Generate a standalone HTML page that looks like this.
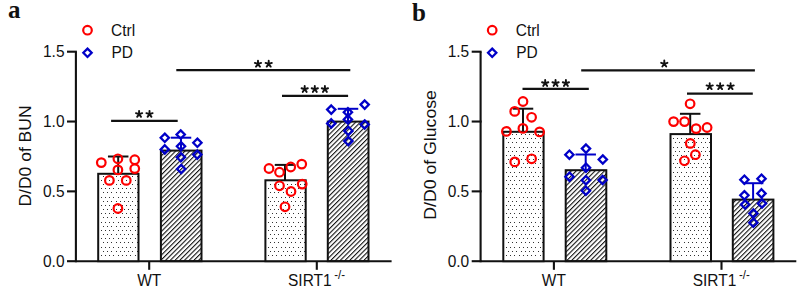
<!DOCTYPE html>
<html><head><meta charset="utf-8"><style>
html,body{margin:0;padding:0;background:#fff;width:797px;height:288px;overflow:hidden}
svg{display:block;font-family:"Liberation Sans",sans-serif}
</style></head><body>
<svg width="797" height="288" viewBox="0 0 797 288" font-family="Liberation Sans" fill="#111">
<defs>
<pattern id="hatch" patternUnits="userSpaceOnUse" width="3.34" height="10" patternTransform="rotate(45)">
<rect x="0" y="0" width="1.1" height="10" fill="#111"/>
</pattern>
</defs>
<rect width="797" height="288" fill="#fff"/>
<text x="8" y="18" font-family="Liberation Serif" font-weight="bold" font-size="25">a</text>
<path d="M75.9 51.7V261.2H391.6" fill="none" stroke="#111" stroke-width="2.1"/>
<line x1="67" y1="261.2" x2="76.9" y2="261.2" stroke="#111" stroke-width="2.1"/>
<text transform="translate(64.5 266.5) scale(1 1.11)" font-size="15.5" text-anchor="end" >0.0</text>
<line x1="67" y1="191.37" x2="76.9" y2="191.37" stroke="#111" stroke-width="2.1"/>
<text transform="translate(64.5 196.67) scale(1 1.11)" font-size="15.5" text-anchor="end" >0.5</text>
<line x1="67" y1="121.53" x2="76.9" y2="121.53" stroke="#111" stroke-width="2.1"/>
<text transform="translate(64.5 126.83) scale(1 1.11)" font-size="15.5" text-anchor="end" >1.0</text>
<line x1="67" y1="51.7" x2="76.9" y2="51.7" stroke="#111" stroke-width="2.1"/>
<text transform="translate(64.5 57) scale(1 1.11)" font-size="15.5" text-anchor="end" >1.5</text>
<line x1="149.2" y1="261.2" x2="149.2" y2="269.8" stroke="#111" stroke-width="2.1"/>
<line x1="316.8" y1="261.2" x2="316.8" y2="269.8" stroke="#111" stroke-width="2.1"/>
<text transform="translate(149.2 286.3) scale(1 1.11)" font-size="15.5" text-anchor="middle" >WT</text>
<text transform="translate(288 286.3) scale(1 1.11)" font-size="15.5" text-anchor="start" >SIRT1</text>
<text transform="translate(334.2 279.2) scale(1 1.11)" font-size="11.5" text-anchor="start" >-/-</text>
<text transform="translate(31.3 156) rotate(-90)" font-size="16" text-anchor="middle" textLength="101" lengthAdjust="spacingAndGlyphs">D/D0 of BUN</text>
<circle cx="87.5" cy="30.2" r="4.3" fill="none" stroke="#fd0000" stroke-width="2.2"/>
<path d="M87.5 48.65L91.65 52.8L87.5 56.95L83.35 52.8Z" fill="none" stroke="#0000c8" stroke-width="2.3"/>
<text transform="translate(111 35.6) scale(1 1.11)" font-size="15.5" text-anchor="start" >Ctrl</text>
<text transform="translate(111.5 58) scale(1 1.11)" font-size="15.5" text-anchor="start" >PD</text>
<rect x="98.2" y="173.8" width="40.3" height="87.4" fill="#fff"/>
<path d="M101 255h1v1h-1zM105 255h1v1h-1zM109 255h1v1h-1zM113 255h1v1h-1zM118 255h1v1h-1zM122 255h1v1h-1zM126 255h1v1h-1zM130 255h1v1h-1zM135 255h1v1h-1zM103 251h1v1h-1zM107 251h1v1h-1zM111 251h1v1h-1zM116 251h1v1h-1zM120 251h1v1h-1zM124 251h1v1h-1zM128 251h1v1h-1zM132 251h1v1h-1zM137 251h1v1h-1zM101 247h1v1h-1zM105 247h1v1h-1zM109 247h1v1h-1zM113 247h1v1h-1zM118 247h1v1h-1zM122 247h1v1h-1zM126 247h1v1h-1zM130 247h1v1h-1zM135 247h1v1h-1zM103 242h1v1h-1zM107 242h1v1h-1zM111 242h1v1h-1zM116 242h1v1h-1zM120 242h1v1h-1zM124 242h1v1h-1zM128 242h1v1h-1zM132 242h1v1h-1zM137 242h1v1h-1zM101 238h1v1h-1zM105 238h1v1h-1zM109 238h1v1h-1zM113 238h1v1h-1zM118 238h1v1h-1zM122 238h1v1h-1zM126 238h1v1h-1zM130 238h1v1h-1zM135 238h1v1h-1zM103 234h1v1h-1zM107 234h1v1h-1zM111 234h1v1h-1zM116 234h1v1h-1zM120 234h1v1h-1zM124 234h1v1h-1zM128 234h1v1h-1zM132 234h1v1h-1zM137 234h1v1h-1zM101 230h1v1h-1zM105 230h1v1h-1zM109 230h1v1h-1zM113 230h1v1h-1zM118 230h1v1h-1zM122 230h1v1h-1zM126 230h1v1h-1zM130 230h1v1h-1zM135 230h1v1h-1zM103 226h1v1h-1zM107 226h1v1h-1zM111 226h1v1h-1zM116 226h1v1h-1zM120 226h1v1h-1zM124 226h1v1h-1zM128 226h1v1h-1zM132 226h1v1h-1zM137 226h1v1h-1zM101 222h1v1h-1zM105 222h1v1h-1zM109 222h1v1h-1zM113 222h1v1h-1zM118 222h1v1h-1zM122 222h1v1h-1zM126 222h1v1h-1zM130 222h1v1h-1zM135 222h1v1h-1zM103 217h1v1h-1zM107 217h1v1h-1zM111 217h1v1h-1zM116 217h1v1h-1zM120 217h1v1h-1zM124 217h1v1h-1zM128 217h1v1h-1zM132 217h1v1h-1zM137 217h1v1h-1zM101 213h1v1h-1zM105 213h1v1h-1zM109 213h1v1h-1zM113 213h1v1h-1zM118 213h1v1h-1zM122 213h1v1h-1zM126 213h1v1h-1zM130 213h1v1h-1zM135 213h1v1h-1zM103 209h1v1h-1zM107 209h1v1h-1zM111 209h1v1h-1zM116 209h1v1h-1zM120 209h1v1h-1zM124 209h1v1h-1zM128 209h1v1h-1zM132 209h1v1h-1zM137 209h1v1h-1zM101 205h1v1h-1zM105 205h1v1h-1zM109 205h1v1h-1zM113 205h1v1h-1zM118 205h1v1h-1zM122 205h1v1h-1zM126 205h1v1h-1zM130 205h1v1h-1zM135 205h1v1h-1zM103 201h1v1h-1zM107 201h1v1h-1zM111 201h1v1h-1zM116 201h1v1h-1zM120 201h1v1h-1zM124 201h1v1h-1zM128 201h1v1h-1zM132 201h1v1h-1zM137 201h1v1h-1zM101 197h1v1h-1zM105 197h1v1h-1zM109 197h1v1h-1zM113 197h1v1h-1zM118 197h1v1h-1zM122 197h1v1h-1zM126 197h1v1h-1zM130 197h1v1h-1zM135 197h1v1h-1zM103 192h1v1h-1zM107 192h1v1h-1zM111 192h1v1h-1zM116 192h1v1h-1zM120 192h1v1h-1zM124 192h1v1h-1zM128 192h1v1h-1zM132 192h1v1h-1zM137 192h1v1h-1zM101 188h1v1h-1zM105 188h1v1h-1zM109 188h1v1h-1zM113 188h1v1h-1zM118 188h1v1h-1zM122 188h1v1h-1zM126 188h1v1h-1zM130 188h1v1h-1zM135 188h1v1h-1zM103 184h1v1h-1zM107 184h1v1h-1zM111 184h1v1h-1zM116 184h1v1h-1zM120 184h1v1h-1zM124 184h1v1h-1zM128 184h1v1h-1zM132 184h1v1h-1zM137 184h1v1h-1zM101 180h1v1h-1zM105 180h1v1h-1zM109 180h1v1h-1zM113 180h1v1h-1zM118 180h1v1h-1zM122 180h1v1h-1zM126 180h1v1h-1zM130 180h1v1h-1zM135 180h1v1h-1zM103 176h1v1h-1zM107 176h1v1h-1zM111 176h1v1h-1zM116 176h1v1h-1zM120 176h1v1h-1zM124 176h1v1h-1zM128 176h1v1h-1zM132 176h1v1h-1zM137 176h1v1h-1z" fill="#333"/>
<rect x="98.2" y="173.8" width="40.3" height="87.4" fill="none" stroke="#111" stroke-width="2"/>
<line x1="118.2" y1="156.5" x2="118.2" y2="173.8" stroke="#111" stroke-width="2.0"/>
<line x1="107.95" y1="156.5" x2="128.45" y2="156.5" stroke="#111" stroke-width="2.0"/>
<circle cx="101.3" cy="162.6" r="4.3" fill="none" stroke="#fd0000" stroke-width="2.2"/>
<circle cx="117.9" cy="158.8" r="4.3" fill="none" stroke="#fd0000" stroke-width="2.2"/>
<circle cx="134.75" cy="159.7" r="4.3" fill="none" stroke="#fd0000" stroke-width="2.2"/>
<circle cx="117.9" cy="169.9" r="4.3" fill="none" stroke="#fd0000" stroke-width="2.2"/>
<circle cx="134.75" cy="168.6" r="4.3" fill="none" stroke="#fd0000" stroke-width="2.2"/>
<circle cx="109.4" cy="180.4" r="4.3" fill="none" stroke="#fd0000" stroke-width="2.2"/>
<circle cx="126.25" cy="180.4" r="4.3" fill="none" stroke="#fd0000" stroke-width="2.2"/>
<circle cx="117.9" cy="208.5" r="4.3" fill="none" stroke="#fd0000" stroke-width="2.2"/>
<rect x="160.9" y="150.6" width="40.6" height="110.6" fill="url(#hatch)" stroke="#111" stroke-width="2"/>
<line x1="181" y1="137.7" x2="181" y2="150.6" stroke="#0000c8" stroke-width="2.0"/>
<line x1="170.75" y1="137.7" x2="191.25" y2="137.7" stroke="#0000c8" stroke-width="2.0"/>
<path d="M164.8 133.65L168.95 137.8L164.8 141.95L160.65 137.8Z" fill="none" stroke="#0000c8" stroke-width="2.3"/>
<path d="M180.7 130.35L184.85 134.5L180.7 138.65L176.55 134.5Z" fill="none" stroke="#0000c8" stroke-width="2.3"/>
<path d="M197.4 138.65L201.55 142.8L197.4 146.95L193.25 142.8Z" fill="none" stroke="#0000c8" stroke-width="2.3"/>
<path d="M164.8 145.25L168.95 149.4L164.8 153.55L160.65 149.4Z" fill="none" stroke="#0000c8" stroke-width="2.3"/>
<path d="M181 142.15L185.15 146.3L181 150.45L176.85 146.3Z" fill="none" stroke="#0000c8" stroke-width="2.3"/>
<path d="M197.3 150.45L201.45 154.6L197.3 158.75L193.15 154.6Z" fill="none" stroke="#0000c8" stroke-width="2.3"/>
<path d="M180.9 153.15L185.05 157.3L180.9 161.45L176.75 157.3Z" fill="none" stroke="#0000c8" stroke-width="2.3"/>
<path d="M181.2 164.85L185.35 169L181.2 173.15L177.05 169Z" fill="none" stroke="#0000c8" stroke-width="2.3"/>
<rect x="265.4" y="180.3" width="40.3" height="80.9" fill="#fff"/>
<path d="M268 255h1v1h-1zM272 255h1v1h-1zM276 255h1v1h-1zM281 255h1v1h-1zM285 255h1v1h-1zM289 255h1v1h-1zM293 255h1v1h-1zM298 255h1v1h-1zM302 255h1v1h-1zM270 251h1v1h-1zM274 251h1v1h-1zM278 251h1v1h-1zM283 251h1v1h-1zM287 251h1v1h-1zM291 251h1v1h-1zM295 251h1v1h-1zM300 251h1v1h-1zM304 251h1v1h-1zM268 247h1v1h-1zM272 247h1v1h-1zM276 247h1v1h-1zM281 247h1v1h-1zM285 247h1v1h-1zM289 247h1v1h-1zM293 247h1v1h-1zM298 247h1v1h-1zM302 247h1v1h-1zM270 242h1v1h-1zM274 242h1v1h-1zM278 242h1v1h-1zM283 242h1v1h-1zM287 242h1v1h-1zM291 242h1v1h-1zM295 242h1v1h-1zM300 242h1v1h-1zM304 242h1v1h-1zM268 238h1v1h-1zM272 238h1v1h-1zM276 238h1v1h-1zM281 238h1v1h-1zM285 238h1v1h-1zM289 238h1v1h-1zM293 238h1v1h-1zM298 238h1v1h-1zM302 238h1v1h-1zM270 234h1v1h-1zM274 234h1v1h-1zM278 234h1v1h-1zM283 234h1v1h-1zM287 234h1v1h-1zM291 234h1v1h-1zM295 234h1v1h-1zM300 234h1v1h-1zM304 234h1v1h-1zM268 230h1v1h-1zM272 230h1v1h-1zM276 230h1v1h-1zM281 230h1v1h-1zM285 230h1v1h-1zM289 230h1v1h-1zM293 230h1v1h-1zM298 230h1v1h-1zM302 230h1v1h-1zM270 226h1v1h-1zM274 226h1v1h-1zM278 226h1v1h-1zM283 226h1v1h-1zM287 226h1v1h-1zM291 226h1v1h-1zM295 226h1v1h-1zM300 226h1v1h-1zM304 226h1v1h-1zM268 222h1v1h-1zM272 222h1v1h-1zM276 222h1v1h-1zM281 222h1v1h-1zM285 222h1v1h-1zM289 222h1v1h-1zM293 222h1v1h-1zM298 222h1v1h-1zM302 222h1v1h-1zM270 217h1v1h-1zM274 217h1v1h-1zM278 217h1v1h-1zM283 217h1v1h-1zM287 217h1v1h-1zM291 217h1v1h-1zM295 217h1v1h-1zM300 217h1v1h-1zM304 217h1v1h-1zM268 213h1v1h-1zM272 213h1v1h-1zM276 213h1v1h-1zM281 213h1v1h-1zM285 213h1v1h-1zM289 213h1v1h-1zM293 213h1v1h-1zM298 213h1v1h-1zM302 213h1v1h-1zM270 209h1v1h-1zM274 209h1v1h-1zM278 209h1v1h-1zM283 209h1v1h-1zM287 209h1v1h-1zM291 209h1v1h-1zM295 209h1v1h-1zM300 209h1v1h-1zM304 209h1v1h-1zM268 205h1v1h-1zM272 205h1v1h-1zM276 205h1v1h-1zM281 205h1v1h-1zM285 205h1v1h-1zM289 205h1v1h-1zM293 205h1v1h-1zM298 205h1v1h-1zM302 205h1v1h-1zM270 201h1v1h-1zM274 201h1v1h-1zM278 201h1v1h-1zM283 201h1v1h-1zM287 201h1v1h-1zM291 201h1v1h-1zM295 201h1v1h-1zM300 201h1v1h-1zM304 201h1v1h-1zM268 197h1v1h-1zM272 197h1v1h-1zM276 197h1v1h-1zM281 197h1v1h-1zM285 197h1v1h-1zM289 197h1v1h-1zM293 197h1v1h-1zM298 197h1v1h-1zM302 197h1v1h-1zM270 192h1v1h-1zM274 192h1v1h-1zM278 192h1v1h-1zM283 192h1v1h-1zM287 192h1v1h-1zM291 192h1v1h-1zM295 192h1v1h-1zM300 192h1v1h-1zM304 192h1v1h-1zM268 188h1v1h-1zM272 188h1v1h-1zM276 188h1v1h-1zM281 188h1v1h-1zM285 188h1v1h-1zM289 188h1v1h-1zM293 188h1v1h-1zM298 188h1v1h-1zM302 188h1v1h-1zM270 184h1v1h-1zM274 184h1v1h-1zM278 184h1v1h-1zM283 184h1v1h-1zM287 184h1v1h-1zM291 184h1v1h-1zM295 184h1v1h-1zM300 184h1v1h-1zM304 184h1v1h-1z" fill="#333"/>
<rect x="265.4" y="180.3" width="40.3" height="80.9" fill="none" stroke="#111" stroke-width="2"/>
<line x1="285" y1="164.9" x2="285" y2="180.3" stroke="#111" stroke-width="2.0"/>
<line x1="274.75" y1="164.9" x2="295.25" y2="164.9" stroke="#111" stroke-width="2.0"/>
<circle cx="269" cy="168.5" r="4.3" fill="none" stroke="#fd0000" stroke-width="2.2"/>
<circle cx="279.5" cy="172.2" r="4.3" fill="none" stroke="#fd0000" stroke-width="2.2"/>
<circle cx="290.75" cy="167" r="4.3" fill="none" stroke="#fd0000" stroke-width="2.2"/>
<circle cx="301.75" cy="164.1" r="4.3" fill="none" stroke="#fd0000" stroke-width="2.2"/>
<circle cx="279.5" cy="185.8" r="4.3" fill="none" stroke="#fd0000" stroke-width="2.2"/>
<circle cx="302.2" cy="184.1" r="4.3" fill="none" stroke="#fd0000" stroke-width="2.2"/>
<circle cx="291" cy="191.5" r="4.3" fill="none" stroke="#fd0000" stroke-width="2.2"/>
<circle cx="285" cy="206.8" r="4.3" fill="none" stroke="#fd0000" stroke-width="2.2"/>
<rect x="327.8" y="121.6" width="40.7" height="139.6" fill="url(#hatch)" stroke="#111" stroke-width="2"/>
<line x1="348" y1="108.8" x2="348" y2="121.6" stroke="#0000c8" stroke-width="2.0"/>
<line x1="337.75" y1="108.8" x2="358.25" y2="108.8" stroke="#0000c8" stroke-width="2.0"/>
<path d="M331.25 105.45L335.4 109.6L331.25 113.75L327.1 109.6Z" fill="none" stroke="#0000c8" stroke-width="2.3"/>
<path d="M347.9 108.05L352.05 112.2L347.9 116.35L343.75 112.2Z" fill="none" stroke="#0000c8" stroke-width="2.3"/>
<path d="M364.7 100.45L368.85 104.6L364.7 108.75L360.55 104.6Z" fill="none" stroke="#0000c8" stroke-width="2.3"/>
<path d="M331.25 119.25L335.4 123.4L331.25 127.55L327.1 123.4Z" fill="none" stroke="#0000c8" stroke-width="2.3"/>
<path d="M347.9 115.25L352.05 119.4L347.9 123.55L343.75 119.4Z" fill="none" stroke="#0000c8" stroke-width="2.3"/>
<path d="M364.7 120.35L368.85 124.5L364.7 128.65L360.55 124.5Z" fill="none" stroke="#0000c8" stroke-width="2.3"/>
<path d="M348.4 126.75L352.55 130.9L348.4 135.05L344.25 130.9Z" fill="none" stroke="#0000c8" stroke-width="2.3"/>
<path d="M348.4 136.95L352.55 141.1L348.4 145.25L344.25 141.1Z" fill="none" stroke="#0000c8" stroke-width="2.3"/>
<line x1="111.1" y1="120.9" x2="177.7" y2="120.9" stroke="#111" stroke-width="2.2"/>
<path d="M139.09 114.15L139.09 110.85M139.09 114.15L142.23 113.13M139.09 114.15L135.95 113.13M139.09 114.15L141.03 116.82M139.09 114.15L137.15 116.82M149.51 114.15L149.51 110.85M149.51 114.15L152.65 113.13M149.51 114.15L146.37 113.13M149.51 114.15L151.45 116.82M149.51 114.15L147.57 116.82" stroke="#111" stroke-width="1.9" stroke-linecap="round" fill="none"/>
<line x1="176.3" y1="70.2" x2="350.3" y2="70.2" stroke="#111" stroke-width="2.2"/>
<path d="M257.99 63.95L257.99 60.65M257.99 63.95L261.13 62.93M257.99 63.95L254.85 62.93M257.99 63.95L259.93 66.62M257.99 63.95L256.05 66.62M268.71 63.95L268.71 60.65M268.71 63.95L271.85 62.93M268.71 63.95L265.57 62.93M268.71 63.95L270.65 66.62M268.71 63.95L266.77 66.62" stroke="#111" stroke-width="1.9" stroke-linecap="round" fill="none"/>
<line x1="282" y1="95.8" x2="348.1" y2="95.8" stroke="#111" stroke-width="2.2"/>
<path d="M304.69 89.25L304.69 85.95M304.69 89.25L307.83 88.23M304.69 89.25L301.55 88.23M304.69 89.25L306.63 91.92M304.69 89.25L302.75 91.92M314.8 89.25L314.8 85.95M314.8 89.25L317.94 88.23M314.8 89.25L311.66 88.23M314.8 89.25L316.74 91.92M314.8 89.25L312.86 91.92M324.91 89.25L324.91 85.95M324.91 89.25L328.05 88.23M324.91 89.25L321.77 88.23M324.91 89.25L326.85 91.92M324.91 89.25L322.97 91.92" stroke="#111" stroke-width="1.9" stroke-linecap="round" fill="none"/>
<text x="412" y="20.9" font-family="Liberation Serif" font-weight="bold" font-size="25">b</text>
<path d="M480.6 51.7V261.2H796.3" fill="none" stroke="#111" stroke-width="2.1"/>
<line x1="471.7" y1="261.2" x2="481.6" y2="261.2" stroke="#111" stroke-width="2.1"/>
<text transform="translate(469.2 266.5) scale(1 1.11)" font-size="15.5" text-anchor="end" >0.0</text>
<line x1="471.7" y1="191.37" x2="481.6" y2="191.37" stroke="#111" stroke-width="2.1"/>
<text transform="translate(469.2 196.67) scale(1 1.11)" font-size="15.5" text-anchor="end" >0.5</text>
<line x1="471.7" y1="121.53" x2="481.6" y2="121.53" stroke="#111" stroke-width="2.1"/>
<text transform="translate(469.2 126.83) scale(1 1.11)" font-size="15.5" text-anchor="end" >1.0</text>
<line x1="471.7" y1="51.7" x2="481.6" y2="51.7" stroke="#111" stroke-width="2.1"/>
<text transform="translate(469.2 57) scale(1 1.11)" font-size="15.5" text-anchor="end" >1.5</text>
<line x1="553.9" y1="261.2" x2="553.9" y2="269.8" stroke="#111" stroke-width="2.1"/>
<line x1="721.5" y1="261.2" x2="721.5" y2="269.8" stroke="#111" stroke-width="2.1"/>
<text transform="translate(553.9 286.3) scale(1 1.11)" font-size="15.5" text-anchor="middle" >WT</text>
<text transform="translate(692.7 286.3) scale(1 1.11)" font-size="15.5" text-anchor="start" >SIRT1</text>
<text transform="translate(738.9 279.2) scale(1 1.11)" font-size="11.5" text-anchor="start" >-/-</text>
<text transform="translate(436 154.9) rotate(-90)" font-size="16" text-anchor="middle" textLength="129.5" lengthAdjust="spacingAndGlyphs">D/D0 of Glucose</text>
<circle cx="492.2" cy="30.2" r="4.3" fill="none" stroke="#fd0000" stroke-width="2.2"/>
<path d="M492.2 48.65L496.35 52.8L492.2 56.95L488.05 52.8Z" fill="none" stroke="#0000c8" stroke-width="2.3"/>
<text transform="translate(515.7 35.6) scale(1 1.11)" font-size="15.5" text-anchor="start" >Ctrl</text>
<text transform="translate(516.2 58) scale(1 1.11)" font-size="15.5" text-anchor="start" >PD</text>
<rect x="503.3" y="131.8" width="40.3" height="129.4" fill="#fff"/>
<path d="M506 255h1v1h-1zM510 255h1v1h-1zM514 255h1v1h-1zM519 255h1v1h-1zM523 255h1v1h-1zM527 255h1v1h-1zM531 255h1v1h-1zM535 255h1v1h-1zM540 255h1v1h-1zM508 251h1v1h-1zM512 251h1v1h-1zM516 251h1v1h-1zM521 251h1v1h-1zM525 251h1v1h-1zM529 251h1v1h-1zM533 251h1v1h-1zM538 251h1v1h-1zM542 251h1v1h-1zM506 247h1v1h-1zM510 247h1v1h-1zM514 247h1v1h-1zM519 247h1v1h-1zM523 247h1v1h-1zM527 247h1v1h-1zM531 247h1v1h-1zM535 247h1v1h-1zM540 247h1v1h-1zM508 242h1v1h-1zM512 242h1v1h-1zM516 242h1v1h-1zM521 242h1v1h-1zM525 242h1v1h-1zM529 242h1v1h-1zM533 242h1v1h-1zM538 242h1v1h-1zM542 242h1v1h-1zM506 238h1v1h-1zM510 238h1v1h-1zM514 238h1v1h-1zM519 238h1v1h-1zM523 238h1v1h-1zM527 238h1v1h-1zM531 238h1v1h-1zM535 238h1v1h-1zM540 238h1v1h-1zM508 234h1v1h-1zM512 234h1v1h-1zM516 234h1v1h-1zM521 234h1v1h-1zM525 234h1v1h-1zM529 234h1v1h-1zM533 234h1v1h-1zM538 234h1v1h-1zM542 234h1v1h-1zM506 230h1v1h-1zM510 230h1v1h-1zM514 230h1v1h-1zM519 230h1v1h-1zM523 230h1v1h-1zM527 230h1v1h-1zM531 230h1v1h-1zM535 230h1v1h-1zM540 230h1v1h-1zM508 226h1v1h-1zM512 226h1v1h-1zM516 226h1v1h-1zM521 226h1v1h-1zM525 226h1v1h-1zM529 226h1v1h-1zM533 226h1v1h-1zM538 226h1v1h-1zM542 226h1v1h-1zM506 222h1v1h-1zM510 222h1v1h-1zM514 222h1v1h-1zM519 222h1v1h-1zM523 222h1v1h-1zM527 222h1v1h-1zM531 222h1v1h-1zM535 222h1v1h-1zM540 222h1v1h-1zM508 217h1v1h-1zM512 217h1v1h-1zM516 217h1v1h-1zM521 217h1v1h-1zM525 217h1v1h-1zM529 217h1v1h-1zM533 217h1v1h-1zM538 217h1v1h-1zM542 217h1v1h-1zM506 213h1v1h-1zM510 213h1v1h-1zM514 213h1v1h-1zM519 213h1v1h-1zM523 213h1v1h-1zM527 213h1v1h-1zM531 213h1v1h-1zM535 213h1v1h-1zM540 213h1v1h-1zM508 209h1v1h-1zM512 209h1v1h-1zM516 209h1v1h-1zM521 209h1v1h-1zM525 209h1v1h-1zM529 209h1v1h-1zM533 209h1v1h-1zM538 209h1v1h-1zM542 209h1v1h-1zM506 205h1v1h-1zM510 205h1v1h-1zM514 205h1v1h-1zM519 205h1v1h-1zM523 205h1v1h-1zM527 205h1v1h-1zM531 205h1v1h-1zM535 205h1v1h-1zM540 205h1v1h-1zM508 201h1v1h-1zM512 201h1v1h-1zM516 201h1v1h-1zM521 201h1v1h-1zM525 201h1v1h-1zM529 201h1v1h-1zM533 201h1v1h-1zM538 201h1v1h-1zM542 201h1v1h-1zM506 197h1v1h-1zM510 197h1v1h-1zM514 197h1v1h-1zM519 197h1v1h-1zM523 197h1v1h-1zM527 197h1v1h-1zM531 197h1v1h-1zM535 197h1v1h-1zM540 197h1v1h-1zM508 192h1v1h-1zM512 192h1v1h-1zM516 192h1v1h-1zM521 192h1v1h-1zM525 192h1v1h-1zM529 192h1v1h-1zM533 192h1v1h-1zM538 192h1v1h-1zM542 192h1v1h-1zM506 188h1v1h-1zM510 188h1v1h-1zM514 188h1v1h-1zM519 188h1v1h-1zM523 188h1v1h-1zM527 188h1v1h-1zM531 188h1v1h-1zM535 188h1v1h-1zM540 188h1v1h-1zM508 184h1v1h-1zM512 184h1v1h-1zM516 184h1v1h-1zM521 184h1v1h-1zM525 184h1v1h-1zM529 184h1v1h-1zM533 184h1v1h-1zM538 184h1v1h-1zM542 184h1v1h-1zM506 180h1v1h-1zM510 180h1v1h-1zM514 180h1v1h-1zM519 180h1v1h-1zM523 180h1v1h-1zM527 180h1v1h-1zM531 180h1v1h-1zM535 180h1v1h-1zM540 180h1v1h-1zM508 176h1v1h-1zM512 176h1v1h-1zM516 176h1v1h-1zM521 176h1v1h-1zM525 176h1v1h-1zM529 176h1v1h-1zM533 176h1v1h-1zM538 176h1v1h-1zM542 176h1v1h-1zM506 172h1v1h-1zM510 172h1v1h-1zM514 172h1v1h-1zM519 172h1v1h-1zM523 172h1v1h-1zM527 172h1v1h-1zM531 172h1v1h-1zM535 172h1v1h-1zM540 172h1v1h-1zM508 167h1v1h-1zM512 167h1v1h-1zM516 167h1v1h-1zM521 167h1v1h-1zM525 167h1v1h-1zM529 167h1v1h-1zM533 167h1v1h-1zM538 167h1v1h-1zM542 167h1v1h-1zM506 163h1v1h-1zM510 163h1v1h-1zM514 163h1v1h-1zM519 163h1v1h-1zM523 163h1v1h-1zM527 163h1v1h-1zM531 163h1v1h-1zM535 163h1v1h-1zM540 163h1v1h-1zM508 159h1v1h-1zM512 159h1v1h-1zM516 159h1v1h-1zM521 159h1v1h-1zM525 159h1v1h-1zM529 159h1v1h-1zM533 159h1v1h-1zM538 159h1v1h-1zM542 159h1v1h-1zM506 155h1v1h-1zM510 155h1v1h-1zM514 155h1v1h-1zM519 155h1v1h-1zM523 155h1v1h-1zM527 155h1v1h-1zM531 155h1v1h-1zM535 155h1v1h-1zM540 155h1v1h-1zM508 151h1v1h-1zM512 151h1v1h-1zM516 151h1v1h-1zM521 151h1v1h-1zM525 151h1v1h-1zM529 151h1v1h-1zM533 151h1v1h-1zM538 151h1v1h-1zM542 151h1v1h-1zM506 147h1v1h-1zM510 147h1v1h-1zM514 147h1v1h-1zM519 147h1v1h-1zM523 147h1v1h-1zM527 147h1v1h-1zM531 147h1v1h-1zM535 147h1v1h-1zM540 147h1v1h-1zM508 142h1v1h-1zM512 142h1v1h-1zM516 142h1v1h-1zM521 142h1v1h-1zM525 142h1v1h-1zM529 142h1v1h-1zM533 142h1v1h-1zM538 142h1v1h-1zM542 142h1v1h-1zM506 138h1v1h-1zM510 138h1v1h-1zM514 138h1v1h-1zM519 138h1v1h-1zM523 138h1v1h-1zM527 138h1v1h-1zM531 138h1v1h-1zM535 138h1v1h-1zM540 138h1v1h-1zM508 134h1v1h-1zM512 134h1v1h-1zM516 134h1v1h-1zM521 134h1v1h-1zM525 134h1v1h-1zM529 134h1v1h-1zM533 134h1v1h-1zM538 134h1v1h-1zM542 134h1v1h-1z" fill="#333"/>
<rect x="503.3" y="131.8" width="40.3" height="129.4" fill="none" stroke="#111" stroke-width="2"/>
<line x1="523" y1="108.7" x2="523" y2="131.8" stroke="#111" stroke-width="2.0"/>
<line x1="512.75" y1="108.7" x2="533.25" y2="108.7" stroke="#111" stroke-width="2.0"/>
<circle cx="523" cy="101.5" r="4.3" fill="none" stroke="#fd0000" stroke-width="2.2"/>
<circle cx="514.7" cy="111.4" r="4.3" fill="none" stroke="#fd0000" stroke-width="2.2"/>
<circle cx="531.6" cy="117.3" r="4.3" fill="none" stroke="#fd0000" stroke-width="2.2"/>
<circle cx="506.4" cy="131.4" r="4.3" fill="none" stroke="#fd0000" stroke-width="2.2"/>
<circle cx="522.9" cy="128.4" r="4.3" fill="none" stroke="#fd0000" stroke-width="2.2"/>
<circle cx="539.6" cy="131.9" r="4.3" fill="none" stroke="#fd0000" stroke-width="2.2"/>
<circle cx="514.75" cy="161.9" r="4.3" fill="none" stroke="#fd0000" stroke-width="2.2"/>
<circle cx="531.6" cy="158.8" r="4.3" fill="none" stroke="#fd0000" stroke-width="2.2"/>
<rect x="565.7" y="170.2" width="40.6" height="91" fill="url(#hatch)" stroke="#111" stroke-width="2"/>
<line x1="585.7" y1="154.5" x2="585.7" y2="170.2" stroke="#0000c8" stroke-width="2.0"/>
<line x1="575.45" y1="154.5" x2="595.95" y2="154.5" stroke="#0000c8" stroke-width="2.0"/>
<path d="M569.4 150.55L573.55 154.7L569.4 158.85L565.25 154.7Z" fill="none" stroke="#0000c8" stroke-width="2.3"/>
<path d="M586 144.45L590.15 148.6L586 152.75L581.85 148.6Z" fill="none" stroke="#0000c8" stroke-width="2.3"/>
<path d="M602.8 155.35L606.95 159.5L602.8 163.65L598.65 159.5Z" fill="none" stroke="#0000c8" stroke-width="2.3"/>
<path d="M586 163.55L590.15 167.7L586 171.85L581.85 167.7Z" fill="none" stroke="#0000c8" stroke-width="2.3"/>
<path d="M569.5 172.55L573.65 176.7L569.5 180.85L565.35 176.7Z" fill="none" stroke="#0000c8" stroke-width="2.3"/>
<path d="M585.9 176.05L590.05 180.2L585.9 184.35L581.75 180.2Z" fill="none" stroke="#0000c8" stroke-width="2.3"/>
<path d="M602.6 175.85L606.75 180L602.6 184.15L598.45 180Z" fill="none" stroke="#0000c8" stroke-width="2.3"/>
<path d="M585.9 186.55L590.05 190.7L585.9 194.85L581.75 190.7Z" fill="none" stroke="#0000c8" stroke-width="2.3"/>
<rect x="670.5" y="134.1" width="40.5" height="127.1" fill="#fff"/>
<path d="M673 255h1v1h-1zM677 255h1v1h-1zM681 255h1v1h-1zM686 255h1v1h-1zM690 255h1v1h-1zM694 255h1v1h-1zM698 255h1v1h-1zM703 255h1v1h-1zM707 255h1v1h-1zM675 251h1v1h-1zM679 251h1v1h-1zM684 251h1v1h-1zM688 251h1v1h-1zM692 251h1v1h-1zM696 251h1v1h-1zM701 251h1v1h-1zM705 251h1v1h-1zM709 251h1v1h-1zM673 247h1v1h-1zM677 247h1v1h-1zM681 247h1v1h-1zM686 247h1v1h-1zM690 247h1v1h-1zM694 247h1v1h-1zM698 247h1v1h-1zM703 247h1v1h-1zM707 247h1v1h-1zM675 242h1v1h-1zM679 242h1v1h-1zM684 242h1v1h-1zM688 242h1v1h-1zM692 242h1v1h-1zM696 242h1v1h-1zM701 242h1v1h-1zM705 242h1v1h-1zM709 242h1v1h-1zM673 238h1v1h-1zM677 238h1v1h-1zM681 238h1v1h-1zM686 238h1v1h-1zM690 238h1v1h-1zM694 238h1v1h-1zM698 238h1v1h-1zM703 238h1v1h-1zM707 238h1v1h-1zM675 234h1v1h-1zM679 234h1v1h-1zM684 234h1v1h-1zM688 234h1v1h-1zM692 234h1v1h-1zM696 234h1v1h-1zM701 234h1v1h-1zM705 234h1v1h-1zM709 234h1v1h-1zM673 230h1v1h-1zM677 230h1v1h-1zM681 230h1v1h-1zM686 230h1v1h-1zM690 230h1v1h-1zM694 230h1v1h-1zM698 230h1v1h-1zM703 230h1v1h-1zM707 230h1v1h-1zM675 226h1v1h-1zM679 226h1v1h-1zM684 226h1v1h-1zM688 226h1v1h-1zM692 226h1v1h-1zM696 226h1v1h-1zM701 226h1v1h-1zM705 226h1v1h-1zM709 226h1v1h-1zM673 222h1v1h-1zM677 222h1v1h-1zM681 222h1v1h-1zM686 222h1v1h-1zM690 222h1v1h-1zM694 222h1v1h-1zM698 222h1v1h-1zM703 222h1v1h-1zM707 222h1v1h-1zM675 217h1v1h-1zM679 217h1v1h-1zM684 217h1v1h-1zM688 217h1v1h-1zM692 217h1v1h-1zM696 217h1v1h-1zM701 217h1v1h-1zM705 217h1v1h-1zM709 217h1v1h-1zM673 213h1v1h-1zM677 213h1v1h-1zM681 213h1v1h-1zM686 213h1v1h-1zM690 213h1v1h-1zM694 213h1v1h-1zM698 213h1v1h-1zM703 213h1v1h-1zM707 213h1v1h-1zM675 209h1v1h-1zM679 209h1v1h-1zM684 209h1v1h-1zM688 209h1v1h-1zM692 209h1v1h-1zM696 209h1v1h-1zM701 209h1v1h-1zM705 209h1v1h-1zM709 209h1v1h-1zM673 205h1v1h-1zM677 205h1v1h-1zM681 205h1v1h-1zM686 205h1v1h-1zM690 205h1v1h-1zM694 205h1v1h-1zM698 205h1v1h-1zM703 205h1v1h-1zM707 205h1v1h-1zM675 201h1v1h-1zM679 201h1v1h-1zM684 201h1v1h-1zM688 201h1v1h-1zM692 201h1v1h-1zM696 201h1v1h-1zM701 201h1v1h-1zM705 201h1v1h-1zM709 201h1v1h-1zM673 197h1v1h-1zM677 197h1v1h-1zM681 197h1v1h-1zM686 197h1v1h-1zM690 197h1v1h-1zM694 197h1v1h-1zM698 197h1v1h-1zM703 197h1v1h-1zM707 197h1v1h-1zM675 192h1v1h-1zM679 192h1v1h-1zM684 192h1v1h-1zM688 192h1v1h-1zM692 192h1v1h-1zM696 192h1v1h-1zM701 192h1v1h-1zM705 192h1v1h-1zM709 192h1v1h-1zM673 188h1v1h-1zM677 188h1v1h-1zM681 188h1v1h-1zM686 188h1v1h-1zM690 188h1v1h-1zM694 188h1v1h-1zM698 188h1v1h-1zM703 188h1v1h-1zM707 188h1v1h-1zM675 184h1v1h-1zM679 184h1v1h-1zM684 184h1v1h-1zM688 184h1v1h-1zM692 184h1v1h-1zM696 184h1v1h-1zM701 184h1v1h-1zM705 184h1v1h-1zM709 184h1v1h-1zM673 180h1v1h-1zM677 180h1v1h-1zM681 180h1v1h-1zM686 180h1v1h-1zM690 180h1v1h-1zM694 180h1v1h-1zM698 180h1v1h-1zM703 180h1v1h-1zM707 180h1v1h-1zM675 176h1v1h-1zM679 176h1v1h-1zM684 176h1v1h-1zM688 176h1v1h-1zM692 176h1v1h-1zM696 176h1v1h-1zM701 176h1v1h-1zM705 176h1v1h-1zM709 176h1v1h-1zM673 172h1v1h-1zM677 172h1v1h-1zM681 172h1v1h-1zM686 172h1v1h-1zM690 172h1v1h-1zM694 172h1v1h-1zM698 172h1v1h-1zM703 172h1v1h-1zM707 172h1v1h-1zM675 167h1v1h-1zM679 167h1v1h-1zM684 167h1v1h-1zM688 167h1v1h-1zM692 167h1v1h-1zM696 167h1v1h-1zM701 167h1v1h-1zM705 167h1v1h-1zM709 167h1v1h-1zM673 163h1v1h-1zM677 163h1v1h-1zM681 163h1v1h-1zM686 163h1v1h-1zM690 163h1v1h-1zM694 163h1v1h-1zM698 163h1v1h-1zM703 163h1v1h-1zM707 163h1v1h-1zM675 159h1v1h-1zM679 159h1v1h-1zM684 159h1v1h-1zM688 159h1v1h-1zM692 159h1v1h-1zM696 159h1v1h-1zM701 159h1v1h-1zM705 159h1v1h-1zM709 159h1v1h-1zM673 155h1v1h-1zM677 155h1v1h-1zM681 155h1v1h-1zM686 155h1v1h-1zM690 155h1v1h-1zM694 155h1v1h-1zM698 155h1v1h-1zM703 155h1v1h-1zM707 155h1v1h-1zM675 151h1v1h-1zM679 151h1v1h-1zM684 151h1v1h-1zM688 151h1v1h-1zM692 151h1v1h-1zM696 151h1v1h-1zM701 151h1v1h-1zM705 151h1v1h-1zM709 151h1v1h-1zM673 147h1v1h-1zM677 147h1v1h-1zM681 147h1v1h-1zM686 147h1v1h-1zM690 147h1v1h-1zM694 147h1v1h-1zM698 147h1v1h-1zM703 147h1v1h-1zM707 147h1v1h-1zM675 142h1v1h-1zM679 142h1v1h-1zM684 142h1v1h-1zM688 142h1v1h-1zM692 142h1v1h-1zM696 142h1v1h-1zM701 142h1v1h-1zM705 142h1v1h-1zM709 142h1v1h-1zM673 138h1v1h-1zM677 138h1v1h-1zM681 138h1v1h-1zM686 138h1v1h-1zM690 138h1v1h-1zM694 138h1v1h-1zM698 138h1v1h-1zM703 138h1v1h-1zM707 138h1v1h-1z" fill="#333"/>
<rect x="670.5" y="134.1" width="40.5" height="127.1" fill="none" stroke="#111" stroke-width="2"/>
<line x1="690.2" y1="113.8" x2="690.2" y2="134.1" stroke="#111" stroke-width="2.0"/>
<line x1="679.95" y1="113.8" x2="700.45" y2="113.8" stroke="#111" stroke-width="2.0"/>
<circle cx="690.1" cy="103.8" r="4.3" fill="none" stroke="#fd0000" stroke-width="2.2"/>
<circle cx="673.6" cy="121.6" r="4.3" fill="none" stroke="#fd0000" stroke-width="2.2"/>
<circle cx="684.55" cy="121.6" r="4.3" fill="none" stroke="#fd0000" stroke-width="2.2"/>
<circle cx="696.1" cy="128.6" r="4.3" fill="none" stroke="#fd0000" stroke-width="2.2"/>
<circle cx="707.1" cy="127.5" r="4.3" fill="none" stroke="#fd0000" stroke-width="2.2"/>
<circle cx="690.3" cy="143.4" r="4.3" fill="none" stroke="#fd0000" stroke-width="2.2"/>
<circle cx="695.4" cy="154.7" r="4.3" fill="none" stroke="#fd0000" stroke-width="2.2"/>
<circle cx="684.5" cy="160.8" r="4.3" fill="none" stroke="#fd0000" stroke-width="2.2"/>
<rect x="732.8" y="199.6" width="40.6" height="61.6" fill="url(#hatch)" stroke="#111" stroke-width="2"/>
<line x1="753.1" y1="183.2" x2="753.1" y2="199.6" stroke="#0000c8" stroke-width="2.0"/>
<line x1="742.85" y1="183.2" x2="763.35" y2="183.2" stroke="#0000c8" stroke-width="2.0"/>
<path d="M744.4 175.55L748.55 179.7L744.4 183.85L740.25 179.7Z" fill="none" stroke="#0000c8" stroke-width="2.3"/>
<path d="M761.5 174.55L765.65 178.7L761.5 182.85L757.35 178.7Z" fill="none" stroke="#0000c8" stroke-width="2.3"/>
<path d="M744.4 191.15L748.55 195.3L744.4 199.45L740.25 195.3Z" fill="none" stroke="#0000c8" stroke-width="2.3"/>
<path d="M761.5 189.25L765.65 193.4L761.5 197.55L757.35 193.4Z" fill="none" stroke="#0000c8" stroke-width="2.3"/>
<path d="M745.1 200.35L749.25 204.5L745.1 208.65L740.95 204.5Z" fill="none" stroke="#0000c8" stroke-width="2.3"/>
<path d="M762 199.35L766.15 203.5L762 207.65L757.85 203.5Z" fill="none" stroke="#0000c8" stroke-width="2.3"/>
<path d="M753.4 209.35L757.55 213.5L753.4 217.65L749.25 213.5Z" fill="none" stroke="#0000c8" stroke-width="2.3"/>
<path d="M753.4 218.55L757.55 222.7L753.4 226.85L749.25 222.7Z" fill="none" stroke="#0000c8" stroke-width="2.3"/>
<line x1="522.5" y1="88.9" x2="588.8" y2="88.9" stroke="#111" stroke-width="2.2"/>
<path d="M545.19 83.25L545.19 79.95M545.19 83.25L548.33 82.23M545.19 83.25L542.05 82.23M545.19 83.25L547.13 85.92M545.19 83.25L543.25 85.92M555.55 83.25L555.55 79.95M555.55 83.25L558.69 82.23M555.55 83.25L552.41 82.23M555.55 83.25L557.49 85.92M555.55 83.25L553.61 85.92M565.91 83.25L565.91 79.95M565.91 83.25L569.05 82.23M565.91 83.25L562.77 82.23M565.91 83.25L567.85 85.92M565.91 83.25L563.97 85.92" stroke="#111" stroke-width="1.9" stroke-linecap="round" fill="none"/>
<line x1="581.2" y1="70.3" x2="754.9" y2="70.3" stroke="#111" stroke-width="2.2"/>
<path d="M664.29 63.85L664.29 60.55M664.29 63.85L667.43 62.83M664.29 63.85L661.15 62.83M664.29 63.85L666.23 66.52M664.29 63.85L662.35 66.52" stroke="#111" stroke-width="1.9" stroke-linecap="round" fill="none"/>
<line x1="687" y1="93.6" x2="752.8" y2="93.6" stroke="#111" stroke-width="2.2"/>
<path d="M709.69 86.45L709.69 83.15M709.69 86.45L712.83 85.43M709.69 86.45L706.55 85.43M709.69 86.45L711.63 89.12M709.69 86.45L707.75 89.12M720.15 86.45L720.15 83.15M720.15 86.45L723.29 85.43M720.15 86.45L717.01 85.43M720.15 86.45L722.09 89.12M720.15 86.45L718.21 89.12M730.61 86.45L730.61 83.15M730.61 86.45L733.75 85.43M730.61 86.45L727.47 85.43M730.61 86.45L732.55 89.12M730.61 86.45L728.67 89.12" stroke="#111" stroke-width="1.9" stroke-linecap="round" fill="none"/>
</svg>
</body></html>
